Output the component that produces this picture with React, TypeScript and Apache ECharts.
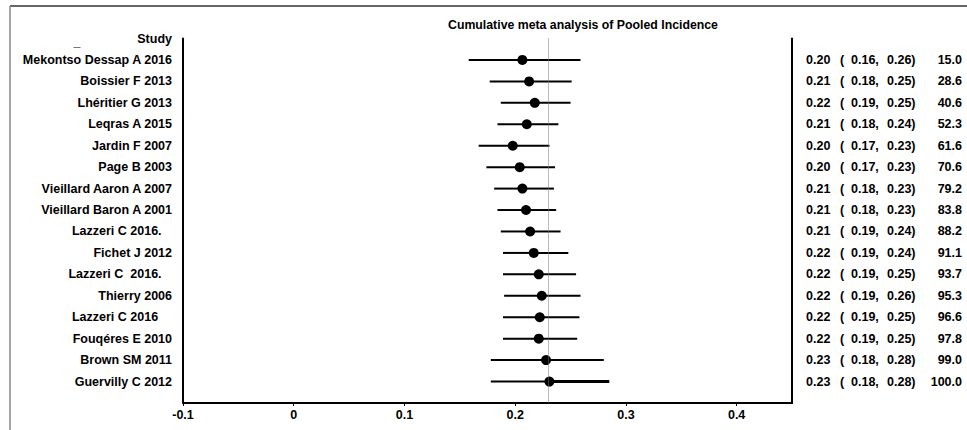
import React, { useEffect, useRef } from "react";
import * as echarts from "echarts";

const NB = "\u00a0";

const studies = [
  "Mekontso Dessap A 2016",
  "Boissier F 2013",
  "Lhéritier G 2013",
  "Leqras A 2015",
  "Jardin F 2007",
  "Page B 2003",
  "Vieillard Aaron A 2007",
  "Vieillard Baron A 2001",
  "Lazzeri C 2016." + NB + NB + NB,
  "Fichet J 2012",
  "Lazzeri C" + NB + NB + "2016." + NB + NB + NB,
  "Thierry 2006",
  "Lazzeri C 2016" + NB + NB + NB + NB,
  "Fouqéres E 2010",
  "Brown SM 2011",
  "Guervilly C 2012",
];

// plotted
const estimates = [0.2065, 0.2126, 0.2177, 0.2105, 0.1978, 0.2041, 0.2065, 0.2098, 0.2135, 0.2168, 0.2213, 0.224, 0.2222, 0.2213, 0.2279, 0.2309];
const lowers = [0.158, 0.177, 0.187, 0.184, 0.167, 0.174, 0.181, 0.184, 0.187, 0.189, 0.189, 0.19, 0.189, 0.189, 0.178, 0.178];
const uppers = [0.259, 0.251, 0.25, 0.239, 0.231, 0.236, 0.235, 0.237, 0.241, 0.248, 0.255, 0.259, 0.258, 0.256, 0.28, 0.285];

// printed column
const estText = ["0.20", "0.21", "0.22", "0.21", "0.20", "0.20", "0.21", "0.21", "0.21", "0.22", "0.22", "0.22", "0.22", "0.22", "0.23", "0.23"];
const loText = ["0.16", "0.18", "0.19", "0.18", "0.17", "0.17", "0.18", "0.18", "0.19", "0.19", "0.19", "0.19", "0.19", "0.19", "0.18", "0.18"];
const hiText = ["0.26", "0.25", "0.25", "0.24", "0.23", "0.23", "0.23", "0.23", "0.24", "0.24", "0.25", "0.26", "0.25", "0.25", "0.28", "0.28"];
const weights = ["15.0", "28.6", "40.6", "52.3", "61.6", "70.6", "79.2", "83.8", "88.2", "91.1", "93.7", "95.3", "96.6", "97.8", "99.0", "100.0"];

const pooled = 0.231;
const xTicks = { min: -0.1, max: 0.45, interval: 0.1 };
const titleText = "Cumulative meta analysis of Pooled Incidence";
const headerText = "Study";

const FONT = "Liberation Sans, Arial, sans-serif";
const FS = 12.5;

export default function App() {
  const ref = useRef<HTMLDivElement>(null);
  useEffect(() => {
    if (!ref.current) return;
    const chart = echarts.init(ref.current, null, { renderer: "svg" });
    const n = studies.length;
    const textBase = { color: "#000", fontWeight: "bold" as const, fontSize: FS, fontFamily: FONT };
    const option: any = {
      animation: false,
      backgroundColor: "#fff",
      grid: { left: 183, right: 175, top: 38.5, bottom: 27, containLabel: false, outerBoundsMode: "none" },
      xAxis: {
        type: "value",
        min: xTicks.min,
        max: xTicks.max,
        interval: xTicks.interval,
        axisLine: { show: true, onZero: false, lineStyle: { color: "#000", width: 2 } },
        axisTick: { show: true, length: 3, lineStyle: { color: "#000", width: 1 } },
        splitLine: { show: false },
        axisLabel: {
          ...textBase,
          margin: 5,
          showMaxLabel: false,
          formatter: (v: number) => {
            if (Math.abs(v - xTicks.max) < 1e-6) return "";
            const r = Math.round(v * 10) / 10;
            return String(r === 0 ? 0 : r);
          },
        },
      },
      yAxis: [
        {
          type: "value",
          inverse: true,
          min: 0,
          max: n + 1,
          interval: 1,
          position: "left",
          axisLine: { show: true, onZero: false, lineStyle: { color: "#000", width: 2 } },
          axisTick: { show: false },
          splitLine: { show: false },
          axisLabel: {
            ...textBase,
            margin: 11,
            align: "right",
            formatter: (v: number) => {
              const i = Math.round(v);
              if (i === 0) return headerText;
              return studies[i - 1] ?? "";
            },
          },
        },
        {
          type: "value",
          inverse: true,
          min: 0,
          max: n + 1,
          interval: 1,
          position: "right",
          axisLine: { show: true, onZero: false, lineStyle: { color: "#000", width: 2 } },
          axisTick: { show: false },
          splitLine: { show: false },
          axisLabel: {
            ...textBase,
            margin: 14,
            align: "left",
            formatter: (v: number) => {
              const i = Math.round(v) - 1;
              if (i < 0 || i >= n) return "";
              return `{a|${estText[i]}}{b|(}{c|${loText[i]},}{d|${hiText[i]})}{w|${weights[i]}}`;
            },
            rich: {
              a: { ...textBase, width: 34, align: "left" },
              b: { ...textBase, width: 11, align: "left" },
              c: { ...textBase, width: 36, align: "left" },
              d: { ...textBase, width: 46, align: "left" },
              w: { ...textBase, width: 29, align: "right" },
            },
          },
        },
      ],
      series: [
        {
          type: "custom",
          yAxisIndex: 0,
          silent: true,
          encode: { x: [0, 1, 2], y: 3 },
          data: studies.map((_, i) => [lowers[i], estimates[i], uppers[i], i + 1]),
          renderItem: (params: any, api: any) => {
            const y = api.value(3);
            const p1 = api.coord([api.value(0), y]);
            const pm = api.coord([api.value(1), y]);
            const p2 = api.coord([api.value(2), y]);
            const last = params.dataIndex === n - 1;
            return {
              type: "group",
              children: [
                { type: "line", shape: { x1: p1[0], y1: p1[1], x2: pm[0], y2: pm[1] }, style: { stroke: "#000", lineWidth: 2 } },
                { type: "line", shape: { x1: pm[0], y1: pm[1], x2: p2[0], y2: p2[1] }, style: { stroke: "#000", lineWidth: last ? 3 : 2 } },
              ],
            };
          },
          markLine: {
            silent: true,
            symbol: "none",
            label: { show: false },
            lineStyle: { color: "#777", width: 1, type: [1, 1] },
            data: [{ xAxis: pooled }],
          },
        },
        {
          type: "scatter",
          yAxisIndex: 0,
          symbol: "circle",
          symbolSize: 10,
          itemStyle: { color: "#000", opacity: 1 },
          data: estimates.map((v, i) => [v, i + 1]),
        },
      ],
      graphic: [
        { type: "line", shape: { x1: 10, y1: 6, x2: 967, y2: 6 }, style: { stroke: "#333", lineWidth: 1.5 } },
        { type: "line", shape: { x1: 10, y1: 6, x2: 10, y2: 430 }, style: { stroke: "#888", lineWidth: 1.5 } },
        {
          type: "text",
          x: 583,
          y: 25,
          style: { text: titleText, fill: "#000", font: `bold 12.3px ${FONT}`, textAlign: "center", textVerticalAlign: "middle" },
        },
        {
          type: "text",
          x: 77,
          y: 42,
          style: { text: "_", fill: "#000", font: `bold ${FS}px ${FONT}`, textAlign: "center", textVerticalAlign: "middle" },
        },
      ],
    };
    chart.setOption(option);
    return () => chart.dispose();
  }, []);
  return <div ref={ref} style={{ position: "fixed", left: 0, top: 0, width: 967, height: 430 }} />;
}
